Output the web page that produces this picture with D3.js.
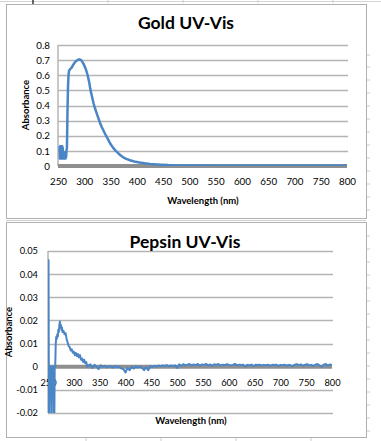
<!DOCTYPE html>
<html><head><meta charset="utf-8">
<script src="https://cdn.jsdelivr.net/npm/d3@7"></script>
<style>
html,body{margin:0;padding:0;background:#fff;}
svg{display:block;}
text{font-family:Lato,"Open Sans",sans-serif;}
</style></head>
<body>
<script>
// ---------- DATA ----------
const xTicks = [250,300,350,400,450,500,550,600,650,700,750,800];
const goldYTicks = [0,0.1,0.2,0.3,0.4,0.5,0.6,0.7,0.8];
const pepsinYTicks = [-0.02,-0.01,0,0.01,0.02,0.03,0.04,0.05];

const goldWavelength = [253,253.5,254,254.5,255,255.5,256,256.5,257,257.5,258,258.5,259,259.5,260,260.5,261,261.5,262,262.5,263,263.5,264,264.5,265,265.5,266,267,268,269,270,271,273,276,279,282,285,288,291,294,297,300,303,306,309,312,315,318,321,324,327,330,333,336,340,345,350,355,360,365,370,375,380,387,395,405,415,425,435,445,460,480,500,550,600,700,800];
const goldAbsorbance = [0.13,0.05,0.13,0.05,0.12,0.05,0.13,0.05,0.12,0.05,0.13,0.05,0.12,0.05,0.09,0.05,0.09,0.05,0.09,0.05,0.09,0.05,0.09,0.05,0.09,0.06,0.1,0.12,0.35,0.52,0.60,0.63,0.64,0.65,0.67,0.685,0.695,0.703,0.705,0.70,0.685,0.665,0.64,0.605,0.56,0.50,0.455,0.41,0.375,0.345,0.315,0.285,0.26,0.238,0.21,0.178,0.145,0.12,0.10,0.083,0.068,0.056,0.047,0.038,0.03,0.023,0.018,0.014,0.011,0.009,0.006,0.004,0.003,0.002,0.0015,0.001,0.001];

const pepsinWavelength = [250,251,252,253,254,255,256,257,258,259,260,261,262,263,264,265,266,267,268,269,270,271,272,273,274,275,276,277,278,280,282,284,286,288,290,292,294,296,298,300,302,304,306,308,310,312,314,316,318,320,322,324,326,
328,332,336,340,344,348,352,356,360,364,368,372,376,380,384,388,392,396,400,404,408,412,416,420,424,428,432,436,440,444,448,452,456,460,464,468,472,476,480,484,488,492,496,500,504,508,512,516,520,524,528,532,536,540,544,548,552,556,560,564,568,572,576,580,584,588,592,596,600,604,608,612,616,620,624,628,632,636,640,644,648,652,656,660,664,668,672,676,680,684,688,692,696,700,704,708,712,716,720,724,728,732,736,740,744,748,752,756,760,764,768,772,776,780,784,788,792,796,800];
const pepsinAbsorbance = [-0.03,0.046,-0.03,0.0,0.0,0.0,0.0,-0.03,0.0,0.0,0.0,0.0,-0.03,0.0,0.0,0.010,0.013,0.012,0.014,0.013,0.016,0.015,0.018,0.0195,0.017,0.018,0.016,0.017,0.015,0.0155,0.014,0.0145,0.012,0.0105,0.009,0.0085,0.007,0.0075,0.006,0.0065,0.005,0.006,0.0045,0.0055,0.004,0.005,0.003,0.0035,0.002,0.003,0.0015,0.002,0.0,
0.0005,0.001,-0.0005,0.0008,0.0,-0.001,0.0006,0.0,0.0004,-0.0003,0.0002,0.0,-0.0004,0.0003,-0.0002,0.0,-0.0008,-0.001,-0.0025,-0.0005,-0.0015,0.0,-0.0008,0.0002,-0.0003,0.0,-0.0005,-0.0015,-0.0002,-0.0015,0.0003,-0.0002,0.0004,0.0,0.0005,0.0002,0.0006,0.0003,0.0007,0.0002,0.0005,0.0003,0.0006,-0.0005,0.001,0.0004,0.0011,0.0006,0.0009,0.0012,0.0005,0.001,0.0007,0.0012,0.0004,0.001,0.0008,0.0012,0.0006,0.001,0.0003,0.0011,0.0008,0.0012,0.0005,0.0009,0.0007,0.0011,0.0009,0.0005,0.0008,0.0012,0.0006,0.0009,0.0007,0.0008,0.0001,0.0008,0.0006,0.0009,0.0002,0.0008,0.0007,0.0009,0.0005,0.0008,0.0006,0.0009,0.0004,0.0008,0.0007,0.0009,0.0003,0.0008,0.0006,0.0009,0.0005,0.0008,0.0006,0.0002,0.0009,0.0011,0.0007,0.001,0.0004,0.0009,0.0011,0.0006,0.0008,0.0003,0.0009,0.0012,0.0005,0.0,0.0009,0.0012,0.0004,0.001,0.0007];

// ---------- DRAW ----------
const W = 381, H = 441;
const svg = d3.select("body").append("svg").attr("width", W).attr("height", H);

// spreadsheet background bits
const bg = svg.append("g");
bg.append("line").attr("x1",0).attr("x2",W).attr("y1",1.5).attr("y2",1.5).attr("stroke","#d4d4d4");
bg.append("line").attr("x1",33).attr("x2",33).attr("y1",0).attr("y2",4).attr("stroke","#333").attr("stroke-width",1.5);
[108,183,258,333].forEach(x => bg.append("line").attr("x1",x).attr("x2",x).attr("y1",0).attr("y2",3).attr("stroke","#ccc"));
[86,161,236,311].forEach(x => bg.append("line").attr("x1",x).attr("x2",x).attr("y1",437).attr("y2",441).attr("stroke","#ccc"));
[55,67,80,93,106,119,132,145,158,171,184,197,210,236,249,262,275,288,301,314,327,340,353,366,379,392,405,418,431].forEach(y =>
  bg.append("line").attr("x1",367).attr("x2",370).attr("y1",y).attr("y2",y).attr("stroke","#ccc"));
bg.append("line").attr("x1",6).attr("x2",366).attr("y1",220.5).attr("y2",220.5).attr("stroke","#d0d0d0");

function drawChart(cfg) {
  const g = svg.append("g");
  g.append("rect").attr("x", cfg.frame[0]+0.5).attr("y", cfg.frame[1]+0.5)
    .attr("width", cfg.frame[2]).attr("height", cfg.frame[3])
    .attr("fill","#fff").attr("stroke","#b0b0b0").attr("stroke-width",1);

  const x = d3.scaleLinear().domain([250,800]).range([cfg.left, cfg.right]);
  const y = d3.scaleLinear().domain([cfg.yTicks[0], cfg.yTicks[cfg.yTicks.length-1]]).range([cfg.bottom, cfg.top]);

  g.append("g").selectAll("line").data(cfg.yTicks.filter(v => v !== 0)).join("line")
    .attr("x1", cfg.left).attr("x2", cfg.right + 1)
    .attr("y1", d => Math.round(y(d))+0.5).attr("y2", d => Math.round(y(d))+0.5)
    .attr("stroke","#b4b4b4").attr("stroke-width",1.5);

  g.append("line").attr("x1", cfg.left).attr("x2", cfg.left)
    .attr("y1", cfg.top).attr("y2", cfg.bottom)
    .attr("stroke","#b4b4b4").attr("stroke-width",1.5);

  const yAxis = d3.axisLeft(y).tickValues(cfg.yTicks).tickSize(0).tickPadding(0)
    .tickFormat(d => d === 0 ? "0" : d3.format(cfg.yFmt)(d).replace("−","-"));
  const ya = g.append("g").attr("transform", `translate(${cfg.yLabelX},0)`).call(yAxis);
  ya.select(".domain").remove();
  ya.selectAll("text").attr("font-size", cfg.tickFs).attr("fill","#000").attr("font-family","Lato, sans-serif");

  const xAxis = d3.axisBottom(x).tickValues(xTicks).tickSize(0).tickPadding(0).tickFormat(d3.format("d"));
  const xa = g.append("g").attr("transform", `translate(0,${cfg.xLabelY})`).call(xAxis);
  xa.select(".domain").remove();
  xa.selectAll("text").attr("font-size", cfg.tickFs).attr("fill","#000").attr("font-family","Lato, sans-serif").attr("dy","0.71em");

  g.append("line").attr("x1", cfg.left).attr("x2", cfg.right)
    .attr("y1", y(0)).attr("y2", y(0)).attr("stroke","#8f8f8f").attr("stroke-width",4);

  const clipId = "clip" + cfg.id;
  svg.append("clipPath").attr("id", clipId).append("rect")
    .attr("x", cfg.left).attr("y", cfg.top - 2).attr("width", cfg.right - cfg.left + 2).attr("height", cfg.bottom - cfg.top + 2);

  const line = d3.line().x(d => x(d[0])).y(d => y(d[1]));
  g.append("path").datum(d3.zip(cfg.xs, cfg.ys))
    .attr("clip-path", `url(#${clipId})`)
    .attr("d", line).attr("fill","none").attr("stroke","#4a86c6")
    .attr("stroke-width", cfg.lw).attr("stroke-linejoin","round");

  g.append("text").attr("x", cfg.titleX).attr("y", cfg.titleY).attr("text-anchor","middle")
    .attr("font-size", 17.5).attr("font-weight","bold").attr("fill","#000").text(cfg.title);
  g.append("text").attr("x", cfg.xTitleX).attr("y", cfg.xTitleY).attr("text-anchor","middle")
    .attr("font-size", 9.5).attr("font-weight","bold").attr("fill","#000").text("Wavelength (nm)");
  g.append("text").attr("transform", `translate(${cfg.yTitleX},${cfg.yTitleY}) rotate(-90)`)
    .attr("text-anchor","middle").attr("font-size", 9.5).attr("font-weight","bold").attr("fill","#000").text("Absorbance");
}

drawChart({
  id: "gold", frame: [6,4,360,214], left: 58, right: 347, top: 45, bottom: 166,
  yTicks: goldYTicks, yFmt: ".1f", yLabelX: 50, xLabelY: 178, tickFs: 9.8,
  xs: goldWavelength, ys: goldAbsorbance, lw: 2.5,
  title: "Gold UV-Vis", titleX: 186, titleY: 29,
  xTitleX: 203, xTitleY: 204, yTitleX: 29, yTitleY: 105
});

drawChart({
  id: "pepsin", frame: [6,222,360,215], left: 48, right: 332, top: 251, bottom: 413,
  yTicks: pepsinYTicks, yFmt: ".2f", yLabelX: 38, xLabelY: 379, tickFs: 9.3,
  xs: pepsinWavelength, ys: pepsinAbsorbance, lw: 2,
  title: "Pepsin UV-Vis", titleX: 185, titleY: 248,
  xTitleX: 191, xTitleY: 424, yTitleX: 12, yTitleY: 332
});
</script>
</body></html>
